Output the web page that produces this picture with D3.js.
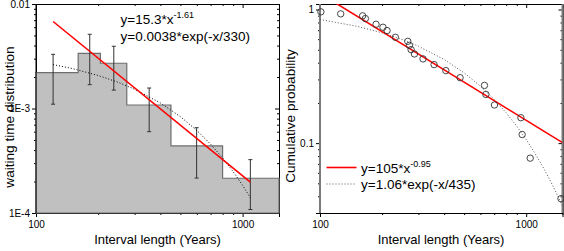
<!DOCTYPE html>
<html>
<head>
<meta charset="utf-8">
<script src="https://cdn.jsdelivr.net/npm/d3@7"></script>
<style>
  body { margin: 0; background: #fff; }
  svg { display: block; font-family: "Liberation Sans", Arial, sans-serif; }
  .axis path { stroke: #000; }
  .axis line { stroke: #000; }
  .axis text { font-size: 10px; fill: #000; }
</style>
</head>
<body>
<svg id="chart" width="564" height="251"></svg>
<script>
// ---- left panel: waiting time histogram ----
const binEdges = [100, 160, 205, 275, 450, 800, 1500];
const binHeights = [0.0022, 0.00337, 0.00271, 0.00108, 0.000438, 0.000215];
const errX = [121, 182, 238, 353, 599, 1090];
const errLow = [0.0011, 0.00169, 0.0015, 0.0006, 0.000216, 0.000108];
const errHigh = [0.0033, 0.00513, 0.00394, 0.00157, 0.000655, 0.000324];
const powFitX = [121, 1090];
const powFitY = [0.0068, 0.000197];
const expFitX = [121, 150, 200, 250, 300, 400, 500, 600, 700, 800, 900, 1000, 1090];
const expFitY = [0.00263, 0.00241, 0.00207, 0.00178, 0.00153, 0.00113, 0.000835, 0.000617, 0.000456, 0.000336, 0.000249, 0.000184, 0.00014];
const leftYTicks = [1e-4, 1e-3, 1e-2];
const leftYLabels = ["1E-4", "1E-3", "0.01"];

// ---- right panel: cumulative probability ----
const cumX = [101, 126, 161, 166, 187, 202, 211.5, 232, 266.5, 271.4, 276.6, 287, 316, 357.6, 407.6, 478, 627.6, 637.5, 701.5, 942.6, 956, 1045.7, 1474];
const cumY = [0.961, 0.928, 0.897, 0.856, 0.776, 0.737, 0.696, 0.62, 0.578, 0.54, 0.501, 0.465, 0.427, 0.387, 0.349, 0.309, 0.2705, 0.2315, 0.193, 0.155, 0.116, 0.0772, 0.0384];
const cumPowX = [100, 1500];
const cumPowY = [1.32, 0.1008];
const cumExpX = [100, 150, 200, 250, 300, 400, 500, 600, 700, 800, 900, 1000, 1100, 1200, 1300, 1400, 1500];
const cumExpY = [0.842, 0.751, 0.669, 0.597, 0.532, 0.4226, 0.3358, 0.2669, 0.2121, 0.1685, 0.1339, 0.1064, 0.0845, 0.0672, 0.0534, 0.0424, 0.0337];
const rightYTicks = [0.1, 1];
const rightYLabels = ["0.1", "1"];

const xMajor = [100, 1000];
const xMinor = [200, 300, 400, 500, 600, 700, 800, 900];

const svg = d3.select("#chart");

function minorsOf(lo, hi) {
    // 2..9 multiples within domain
    let out = [];
    for (let e = -5; e <= 4; e++) {
        for (let k = 2; k <= 9; k++) {
            let v = k * Math.pow(10, e);
            if (v > lo * 1.0001 && v < hi * 0.9999) out.push(+v.toPrecision(3));
        }
    }
    return out;
}

function drawFrame(x, y, yMajor, yLabels, opts) {
    let [x0, x1] = x.range();
    let [y1, y0] = y.range();
    let yMinor = minorsOf(y.domain()[0], y.domain()[1]);

    // bottom (outward)
    svg.append("g").attr("class", "axis").attr("transform", "translate(0," + y1 + ")")
        .call(d3.axisBottom(x).tickValues(xMajor).tickFormat(d3.format("d")).tickSize(4).tickPadding(4));
    svg.append("g").attr("class", "axis").attr("transform", "translate(0," + y1 + ")")
        .call(d3.axisBottom(x).tickValues(xMinor).tickFormat("").tickSize(2));
    // left (outward)
    svg.append("g").attr("class", "axis").attr("transform", "translate(" + x0 + ",0)")
        .call(d3.axisLeft(y).tickValues(yMajor).tickFormat((d, i) => yLabels[i]).tickSize(4).tickPadding(2));
    svg.append("g").attr("class", "axis").attr("transform", "translate(" + x0 + ",0)")
        .call(d3.axisLeft(y).tickValues(yMinor).tickFormat("").tickSize(2));
    // top (inward)
    svg.append("g").attr("class", "axis").attr("transform", "translate(0," + y0 + ")")
        .call(d3.axisTop(x).tickValues(xMajor).tickFormat("").tickSize(-4));
    svg.append("g").attr("class", "axis").attr("transform", "translate(0," + y0 + ")")
        .call(d3.axisTop(x).tickValues(xMinor).tickFormat("").tickSize(-2));
    // right (inward)
    svg.append("g").attr("class", "axis").attr("transform", "translate(" + x1 + ",0)")
        .call(d3.axisRight(y).tickValues(yMajor).tickFormat("").tickSize(-4));
    svg.append("g").attr("class", "axis").attr("transform", "translate(" + x1 + ",0)")
        .call(d3.axisRight(y).tickValues(yMinor).tickFormat("").tickSize(-2));
    svg.selectAll(".axis .domain").attr("stroke-width", 1);
}

function powerLabel(g, xPos, yPos, base, sup) {
    let t = g.append("text").attr("x", xPos).attr("y", yPos)
        .attr("font-size", "13.5px").attr("fill", "#000");
    t.append("tspan").text(base);
    t.append("tspan").attr("dy", -6).attr("font-size", "9px").text(sup);
}

// ================= LEFT =================
let xL = d3.scaleLog().domain([100, 1500]).range([36, 279]);
let yL = d3.scaleLog().domain([1e-4, 1e-2]).range([213, 4]);

drawFrame(xL, yL, leftYTicks, leftYLabels);

// histogram (filled step area)
let histPts = [[binEdges[0], 1e-4]];
for (let i = 0; i < binHeights.length; i++) {
    histPts.push([binEdges[i], binHeights[i]]);
    histPts.push([binEdges[i + 1], binHeights[i]]);
}
histPts.push([binEdges[binEdges.length - 1], 1e-4]);
svg.append("path")
    .attr("d", d3.line().x(d => xL(d[0])).y(d => yL(d[1]))(histPts) + "Z")
    .attr("fill", "#c0c0c0").attr("stroke", "#6e6e6e").attr("stroke-width", 1.2);

// left axis line on top of fill
svg.append("line").attr("x1", xL(100)).attr("x2", xL(100)).attr("y1", 4).attr("y2", 213)
    .attr("stroke", "#000");

// error bars
let eb = svg.append("g").attr("stroke", "#333").attr("stroke-width", 1);
errX.forEach((xv, i) => {
    let cx = xL(xv);
    eb.append("line").attr("x1", cx).attr("x2", cx).attr("y1", yL(errLow[i])).attr("y2", yL(errHigh[i]));
    eb.append("line").attr("x1", cx - 2).attr("x2", cx + 2).attr("y1", yL(errLow[i])).attr("y2", yL(errLow[i]));
    eb.append("line").attr("x1", cx - 2).attr("x2", cx + 2).attr("y1", yL(errHigh[i])).attr("y2", yL(errHigh[i]));
});

// exponential fit (dotted)
svg.append("path")
    .attr("d", d3.line().x((d, i) => xL(d)).y((d, i) => yL(expFitY[i]))(expFitX))
    .attr("fill", "none").attr("stroke", "#000").attr("stroke-width", 1).attr("stroke-dasharray", "1,2");

// power fit (red)
svg.append("path")
    .attr("d", d3.line().x((d, i) => xL(d)).y((d, i) => yL(powFitY[i]))(powFitX))
    .attr("fill", "none").attr("stroke", "#f00").attr("stroke-width", 1.6);

powerLabel(svg, 120.5, 23.5, "y=15.3*x", "-1.61");
svg.append("text").attr("x", 120.5).attr("y", 40.5).attr("font-size", "13.5px")
    .text("y=0.0038*exp(-x/330)");

svg.append("text").attr("x", 157.5).attr("y", 244).attr("text-anchor", "middle")
    .attr("font-size", "13px").text("Interval length (Years)");
svg.append("text").attr("transform", "translate(14,117) rotate(-90)").attr("text-anchor", "middle")
    .attr("font-size", "13.6px").text("waiting time distribution");

// ================= RIGHT =================
let xR = d3.scaleLog().domain([100, 1500]).range([320, 562.5]);
let yR = d3.scaleLog().domain([0.03, 1.1]).range([213, 4]);

drawFrame(xR, yR, rightYTicks, rightYLabels);

// grey side frame lines
svg.append("line").attr("x1", 320).attr("x2", 320).attr("y1", 4).attr("y2", 213)
    .attr("stroke", "#7a7a7a").attr("stroke-width", 2);
svg.append("line").attr("x1", 562.5).attr("x2", 562.5).attr("y1", 4).attr("y2", 213)
    .attr("stroke", "#7a7a7a").attr("stroke-width", 2);

svg.append("clipPath").attr("id", "clipR").append("rect")
    .attr("x", 320).attr("y", 4).attr("width", 242.5).attr("height", 209);

svg.append("path")
    .attr("clip-path", "url(#clipR)")
    .attr("d", d3.line().x((d, i) => xR(d)).y((d, i) => yR(cumExpY[i]))(cumExpX))
    .attr("fill", "none").attr("stroke", "#555").attr("stroke-width", 1).attr("stroke-dasharray", "1,2");

svg.append("path")
    .attr("clip-path", "url(#clipR)")
    .attr("d", d3.line().x((d, i) => xR(d)).y((d, i) => yR(cumPowY[i]))(cumPowX))
    .attr("fill", "none").attr("stroke", "#f00").attr("stroke-width", 1.6);

svg.append("g").selectAll("circle").data(cumX).enter().append("circle")
    .attr("cx", d => xR(d))
    .attr("cy", (d, i) => yR(cumY[i]))
    .attr("r", 3.2)
    .attr("fill", "none").attr("stroke", "#333").attr("stroke-width", 0.9);

// legend
svg.append("line").attr("x1", 326.5).attr("x2", 356.5).attr("y1", 167.5).attr("y2", 167.5)
    .attr("stroke", "#f00").attr("stroke-width", 1.6);
svg.append("line").attr("x1", 326.5).attr("x2", 356.5).attr("y1", 184).attr("y2", 184)
    .attr("stroke", "#555").attr("stroke-width", 1).attr("stroke-dasharray", "1,2");
powerLabel(svg, 361, 172.5, "y=105*x", "-0.95");
svg.append("text").attr("x", 361).attr("y", 189).attr("font-size", "13.5px")
    .text("y=1.06*exp(-x/435)");

svg.append("text").attr("x", 441).attr("y", 244).attr("text-anchor", "middle")
    .attr("font-size", "13px").text("Interval length (Years)");
svg.append("text").attr("transform", "translate(295,116) rotate(-90)").attr("text-anchor", "middle")
    .attr("font-size", "13.6px").text("Cumulative probability");
</script>
</body>
</html>
